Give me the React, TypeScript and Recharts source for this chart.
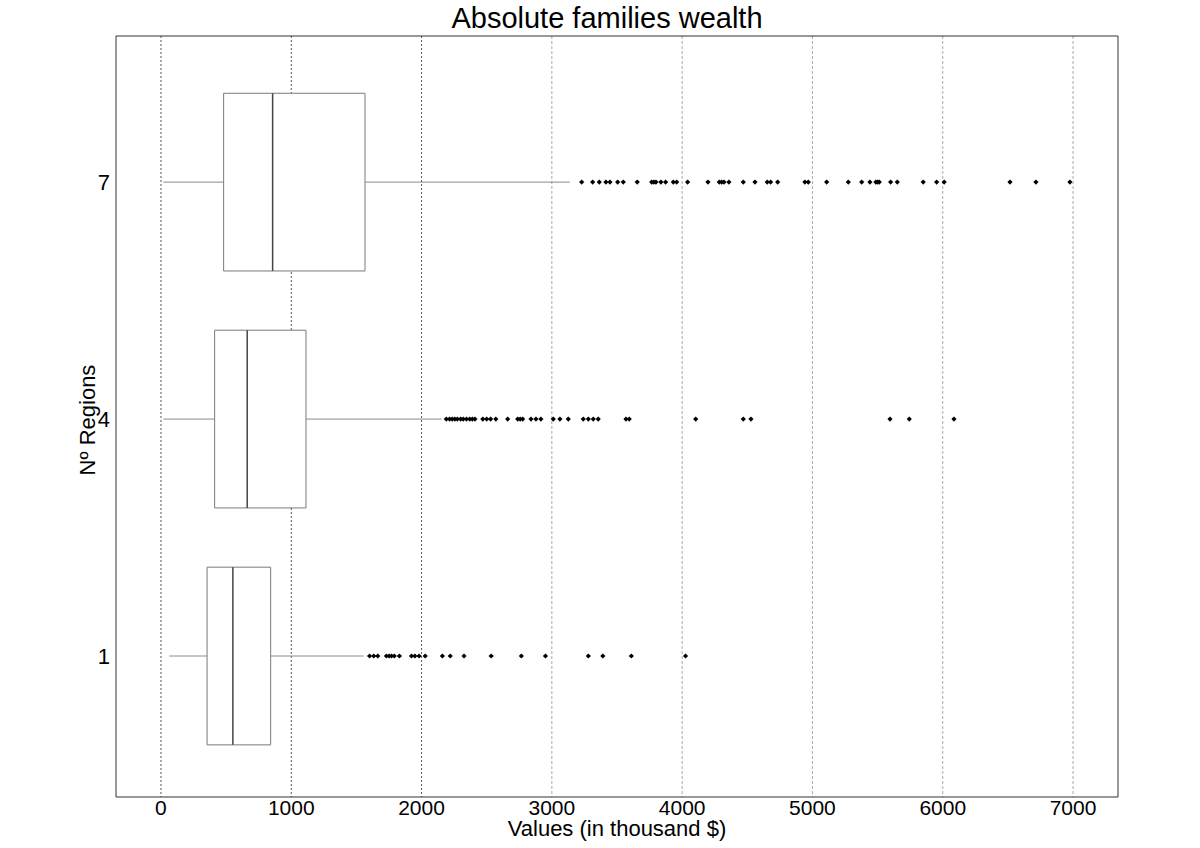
import React from "react";
import {
  CartesianGrid,
  ReferenceArea,
  ReferenceLine,
  Scatter,
  ScatterChart,
  XAxis,
  YAxis,
} from "recharts";

// number of regions, one box per row
const regions = [1, 4, 7];

// box statistics, same order as regions (thousand $)
const whiskerLow = [64, 18, 18];
const lowerQuartile = [354, 412, 481];
const medians = [552, 662, 857];
const upperQuartile = [842, 1113, 1566];
const whiskerHigh = [1555, 2154, 3139];

const outliers1 = [
  1601, 1633, 1664, 1730, 1751, 1770, 1791, 1830, 1923, 1949, 1981, 2028,
  2160, 2220, 2326, 2534, 2766, 2951, 3280, 3391, 3610, 4026,
];
const outliers4 = [
  2190, 2215, 2235, 2255, 2275, 2300, 2320, 2345, 2370, 2390, 2410, 2470,
  2500, 2530, 2570, 2661, 2738, 2757, 2776, 2840, 2878, 2916, 3011, 3062,
  3126, 3241, 3280, 3318, 3356, 3569, 3594, 4104, 4469, 4528, 5595, 5743,
  6086,
];
const outliers7 = [
  3229, 3313, 3364, 3415, 3446, 3505, 3548, 3655, 3766, 3783, 3799, 3837,
  3873, 3932, 3958, 4042, 4198, 4285, 4303, 4321, 4359, 4469, 4559, 4653,
  4679, 4733, 4942, 4968, 5109, 5275, 5378, 5441, 5487, 5500, 5513, 5600,
  5651, 5850, 5953, 6011, 6516, 6715, 6976,
];
const outliers = [outliers1, outliers4, outliers7];

const xTicks = [0, 1000, 2000, 3000, 4000, 5000, 6000, 7000];

const X_MIN = -345;
const X_MAX = 7345;
const Y_MIN = -0.785;
const Y_MAX = 8.85;
const HALF = 1.125;

const FONT = "'Liberation Sans', Arial, Helvetica, sans-serif";

const outlierPoints = outliers.flatMap((list, i) =>
  list.map((v) => ({ x: v, y: regions[i] }))
);

const Diamond = (props: any) => {
  const { cx, cy } = props;
  const r = 2.6;
  return (
    <path
      d={`M${cx},${cy - r}L${cx + r},${cy}L${cx},${cy + r}L${cx - r},${cy}Z`}
      fill="#000"
    />
  );
};

export default function App() {
  return (
    <div
      style={{
        position: "absolute",
        left: 0,
        top: 0,
        width: 1200,
        height: 848,
        background: "#fff",
        fontFamily: FONT,
        color: "#000",
      }}
    >
      <div
        style={{
          position: "absolute",
          top: 2,
          left: 0,
          width: 1214,
          textAlign: "center",
          fontSize: 29,
        }}
      >
        Absolute families wealth
      </div>
      <div
        style={{
          position: "absolute",
          top: 816,
          left: 0,
          width: 1234,
          textAlign: "center",
          fontSize: 22,
        }}
      >
        Values (in thousand $)
      </div>
      <div
        style={{
          position: "absolute",
          left: 88,
          top: 420,
          fontSize: 22,
          whiteSpace: "nowrap",
          transform: "translate(-50%, -50%) rotate(-90deg)",
        }}
      >
        Nº Regions
      </div>

      <ScatterChart
        width={1200}
        height={848}
        margin={{ top: 36, right: 82, bottom: 21, left: 86 }}
        style={{ position: "absolute", left: 0, top: 0 }}
      >
        <CartesianGrid
          horizontal={false}
          verticalValues={[0, 1000, 2000]}
          stroke="#555"
          strokeDasharray="2 2"
        />
        <CartesianGrid
          horizontal={false}
          verticalValues={[3000, 4000, 5000, 6000, 7000]}
          stroke="#aaa"
          strokeDasharray="3 2"
        />
        <XAxis
          type="number"
          dataKey="x"
          domain={[X_MIN, X_MAX]}
          ticks={xTicks}
          allowDataOverflow
          height={30}
          tickLine={false}
          tickSize={0}
          tickMargin={3}
          axisLine={{ stroke: "#333" }}
          tick={{ fill: "#000", fontSize: 21, fontFamily: FONT }}
        />
        <YAxis
          type="number"
          dataKey="y"
          domain={[Y_MIN, Y_MAX]}
          ticks={regions}
          allowDataOverflow
          width={30}
          tickLine={false}
          tickSize={0}
          tickMargin={6}
          axisLine={{ stroke: "#333" }}
          tick={{ fill: "#000", fontSize: 22, fontFamily: FONT }}
        />
        <ReferenceLine x={X_MAX} stroke="#333" />
        <ReferenceLine y={Y_MAX} stroke="#333" />

        {regions.map((r, i) => (
          <ReferenceLine
            key={`wl${r}`}
            segment={[
              { x: whiskerLow[i], y: r },
              { x: lowerQuartile[i], y: r },
            ]}
            stroke="#8a8a8a"
          />
        ))}
        {regions.map((r, i) => (
          <ReferenceLine
            key={`wh${r}`}
            segment={[
              { x: upperQuartile[i], y: r },
              { x: whiskerHigh[i], y: r },
            ]}
            stroke="#8a8a8a"
          />
        ))}
        {regions.map((r, i) => (
          <ReferenceArea
            key={`box${r}`}
            x1={lowerQuartile[i]}
            x2={upperQuartile[i]}
            y1={r - HALF}
            y2={r + HALF}
            fill="#fff"
            fillOpacity={1}
            stroke="#7a7a7a"
          />
        ))}
        {regions.map((r, i) => (
          <ReferenceLine
            key={`med${r}`}
            segment={[
              { x: medians[i], y: r - HALF },
              { x: medians[i], y: r + HALF },
            ]}
            stroke="#444"
            strokeWidth={1.5}
          />
        ))}

        <Scatter
          data={outlierPoints}
          shape={Diamond}
          isAnimationActive={false}
        />
      </ScatterChart>
    </div>
  );
}
